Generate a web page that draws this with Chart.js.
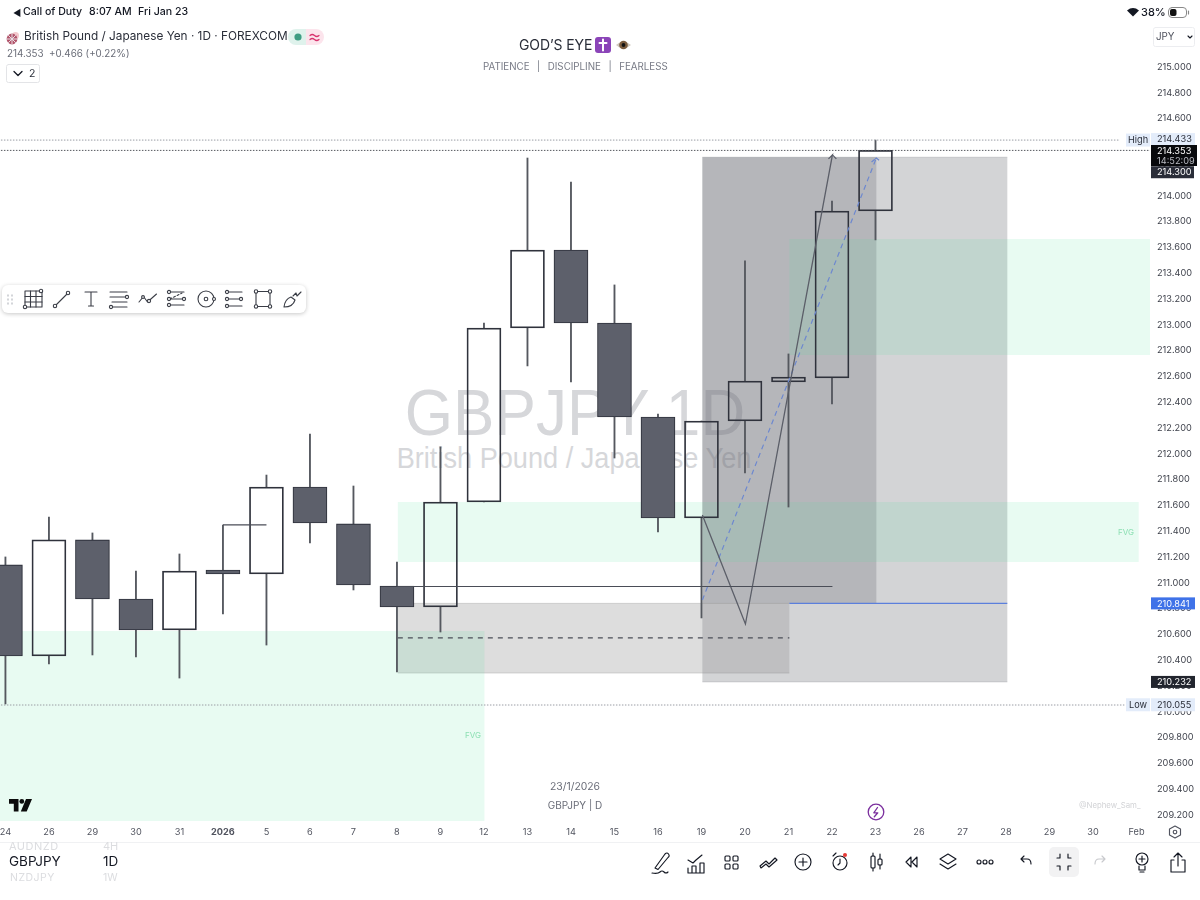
<!DOCTYPE html>
<html lang="en">
<head>
<meta charset="UTF-8" />
<title>GBPJPY 1D</title>
<script src="https://cdn.jsdelivr.net/npm/chart.js"></script>
<style>
  html, body { margin: 0; background: #fff; }
  body { width: 1200px; height: 900px; position: relative; overflow: hidden; font-family: Inter, "Liberation Sans", sans-serif; color: #131722; }
  #chart { position: absolute; left: 0; top: 0; z-index: 1; }
  .t { position: absolute; white-space: nowrap; z-index: 2; line-height: 1; }
  .c { transform: translateX(-50%); }
  .wm { position: absolute; z-index: 0; white-space: nowrap; font-family: "Liberation Sans", sans-serif; line-height: 1; color: #d6d7da; }
  svg.i { position: absolute; z-index: 2; fill: none; stroke: #131722; stroke-width: 1.15; stroke-linecap: round; stroke-linejoin: round; overflow: visible; }
  #tools { position: absolute; left: 2px; top: 285px; width: 304px; height: 28px; background: #fff; border-radius: 6px; box-shadow: 0 1px 4px rgba(0,0,0,.22); z-index: 2; }
</style>
</head>
<body>
<canvas id="chart" width="1200" height="900"></canvas>

<div class="wm" style="left:575px;top:381px;font-size:64px;transform:translateX(-50%) scaleX(.97)">GBPJPY 1D</div>
<div class="wm" style="left:574px;top:444px;font-size:29px;transform:translateX(-50%) scaleX(.936)">British Pound / Japanese Yen</div>

<!-- status bar -->
<div class="t" style="left:13px;top:8px;font-size:9px">◀</div>
<div class="t" style="left:23px;top:7px;font-size:10.6px;font-weight:500">Call of Duty</div>
<div class="t" style="left:89px;top:7px;font-size:10.6px;font-weight:500">8:07 AM</div>
<div class="t" style="left:138px;top:7px;font-size:10.6px;font-weight:500">Fri Jan 23</div>
<div class="t" style="left:1141px;top:7px;font-size:11px;font-weight:500">38%</div>
<svg class="i" style="left:1127px;top:7px;stroke:none;fill:#131722" width="12" height="10" viewBox="0 0 12 10"><path d="M6 9.5 0 3.4Q6-1.2 12 3.4z"/></svg>
<svg class="i" style="left:1168px;top:7px" width="22" height="11" viewBox="0 0 22 11"><rect x=".5" y=".5" width="18" height="10" rx="3.5" stroke="#888" stroke-width="1"/><rect x="2" y="2" width="6.5" height="7" rx="2" fill="#111" stroke="none"/><path d="M20.5 4v3" stroke="#888"/></svg>

<!-- symbol legend -->
<svg class="i" style="left:6px;top:31px;stroke:none" width="14" height="14" viewBox="0 0 14 14"><circle cx="9.5" cy="4.500" r="3.500" fill="#f3c9cd"/><circle cx="6" cy="8" r="5.400" fill="#b2546b"/><path d="M1 8h10M6 3v10M2.500 4.500l7 7M9.500 4.500l-7 7" stroke="#e8dfe4" stroke-width="1"/></svg>
<div class="t" style="left:24px;top:31px;font-size:11.8px;color:#2a2e39">British Pound / Japanese Yen · 1D · FOREXCOM</div>
<svg class="i" style="left:288px;top:29px;stroke:none" width="36" height="16" viewBox="0 0 36 16"><path d="M18 0H8a8 8 0 0 0 0 16h10z" fill="#dff2ec"/><path d="M18 0h10a8 8 0 0 1 0 16H18z" fill="#fce4ec"/><circle cx="10" cy="8" r="3.600" fill="#3f9d83"/><path d="M22 6.500q2.300-2 4.500 0t4.500 0M22 10.500q2.300-2 4.500 0t4.500 0" fill="none" stroke="#d8346f" stroke-width="1.200"/></svg>
<div class="t" style="left:7px;top:49px;font-size:9.8px;color:#6a6d78">214.353 &nbsp;+0.466 (+0.22%)</div>
<svg class="i" style="left:6px;top:64px" width="34" height="19" viewBox="0 0 34 19"><rect x=".5" y=".5" width="33" height="18" rx="2" stroke="#e3e4e7" stroke-width="1"/><path d="M8 7.500l4 4 4-4" stroke-width="1.300"/></svg>
<div class="t" style="left:29px;top:69px;font-size:10.500px;color:#2a2e39">2</div>

<!-- title -->
<div class="t" style="left:519px;top:38px;font-size:14px;letter-spacing:-.1px;color:#2a2e39">GOD’S EYE</div>
<svg class="i" style="left:595px;top:37px;stroke:none" width="37" height="16" viewBox="0 0 37 16"><rect width="16" height="16" rx="3" fill="#8b44b8"/><path d="M8 2.500v11M4.500 6h7" stroke="#fff" stroke-width="2"/><path d="M21 8Q28 1 36 8 28 15 21 8z" fill="#cfc8be"/><circle cx="28.500" cy="8" r="4.300" fill="#7a5c3e"/><circle cx="28.500" cy="8" r="1.900" fill="#111"/></svg>
<div class="t" style="left:483px;top:62px;font-size:9.75px;color:#787b86;word-spacing:1px">PATIENCE &nbsp;|&nbsp; DISCIPLINE &nbsp;|&nbsp; FEARLESS</div>

<!-- currency box -->
<svg class="i" style="left:1153px;top:27px" width="42" height="20" viewBox="0 0 42 20"><rect x=".5" y=".5" width="41" height="19" rx="2" stroke="#eceDf0" stroke-width="1"/><path d="M35 9l2 2 2-2" stroke-width="1.100"/></svg>
<div class="t" style="left:1156px;top:32px;font-size:9.8px;color:#50535e">JPY</div>

<!-- drawing toolbar -->
<div id="tools"></div>
<svg class="i" style="left:0;top:285px;stroke:#3a3d46;stroke-width:1.100" width="310" height="28" viewBox="0 0 310 28">
  <g stroke="#c9cbd0" stroke-width="1.600" stroke-dasharray="1 3"><path d="M8 10v10M12 10v10"/></g>
  <rect x="25" y="6" width="17" height="16"/><path d="M25 11.500h17M25 17h17M30.500 6v16M36 6v16"/><circle cx="25" cy="22" r="1.700" fill="#fff"/><circle cx="41" cy="6" r="1.700" fill="#fff"/>
  <path d="M55 21 68 8"/><circle cx="55" cy="21" r="1.700" fill="#fff"/><circle cx="68" cy="8" r="1.700" fill="#fff"/>
  <path d="M85 7h12M91 7v14M88.500 21h5"/>
  <path d="M110 7h17M110 12h17M112 17h15M110 22h17"/><circle cx="127" cy="12" r="1.600" fill="#fff"/><circle cx="111" cy="22" r="1.600" fill="#fff"/>
  <path d="M139 17l4.500-5.500 4 5.500 9-8"/><circle cx="149" cy="16" r="1.600" fill="#fff"/><circle cx="143" cy="12" r="1.400" fill="#fff"/>
  <path d="M168 7h16M168 14h16M168 20h16"/><path d="M170 14l12-6" stroke-dasharray="2 2"/><circle cx="169" cy="7" r="1.600" fill="#fff"/><circle cx="169" cy="14" r="1.600" fill="#fff"/><circle cx="169" cy="20" r="1.600" fill="#fff"/><circle cx="184" cy="14" r="1.600" fill="#fff"/>
  <circle cx="206" cy="14" r="8"/><circle cx="206" cy="14" r="1.800"/><circle cx="214" cy="14" r="1.500" fill="#fff"/>
  <path d="M226 7h16M226 14h16M226 21h16"/><circle cx="227" cy="7" r="1.600" fill="#fff"/><circle cx="227" cy="14" r="1.600" fill="#fff"/><circle cx="227" cy="21" r="1.600" fill="#fff"/><circle cx="241" cy="14" r="1.600" fill="#fff"/>
  <rect x="256" y="6.500" width="14" height="15"/><circle cx="256" cy="6.500" r="1.700" fill="#fff"/><circle cx="270" cy="6.500" r="1.700" fill="#fff"/><circle cx="256" cy="21.500" r="1.700" fill="#fff"/><circle cx="270" cy="21.500" r="1.700" fill="#fff"/>
  <path d="M284 22q1-8 7-10l4 3q-2 7-11 7zM293 11l3-3 1 3 4-4"/>
</svg>

<!-- zone labels and stamps -->
<div class="t" style="left:465px;top:731px;font-size:8px;color:#8ee0b4">FVG</div>
<div class="t" style="left:1118px;top:528px;font-size:8px;color:#8ee0b4">FVG</div>
<div class="t c" style="left:575px;top:782px;font-size:10.4px;color:#6a6d78">23/1/2026</div>
<div class="t c" style="left:575px;top:800px;font-size:10px;color:#6a6d78">GBPJPY | D</div>
<div class="t" style="left:1079px;top:802px;font-size:7.800px;color:#d2d3d6">@Nephew_Sam_</div>
<svg class="i" style="left:9px;top:799px;stroke:none;fill:#0b0b0b" width="23" height="13" viewBox="0 0 23 13"><path d="M0 0h9.500v12.500H4.800V4.700H0zM17 0h6l-5.300 12.500h-5.900z"/><circle cx="12.800" cy="2.400" r="2.400"/></svg>
<svg class="i" style="left:867px;top:803px;stroke:#7b2f9e" width="18" height="18" viewBox="0 0 18 18"><circle cx="9" cy="9" r="7.800" stroke-width="1.300"/><path d="M10.500 4.500 6.800 9.800h4l-3.500 4" stroke-width="1.300"/></svg>
<svg class="i" style="left:1168px;top:825px;stroke:#50535e" width="14" height="14" viewBox="0 0 14 14"><path d="M7 1l5.500 3v6L7 13 1.500 10V4z"/><circle cx="7" cy="7" r="1.800"/></svg>

<!-- bottom bar -->
<div style="position:absolute;left:0;top:842px;width:1200px;height:1px;background:#f0f1f3;z-index:2"></div>
<div class="t" style="left:9px;top:841px;height:9px;overflow:hidden;font-size:11px;letter-spacing:.5px;color:#dcdde0">AUDNZD</div>
<div class="t" style="left:103px;top:841px;height:9px;overflow:hidden;font-size:11px;color:#dcdde0">4H</div>
<div class="t" style="left:9px;top:855px;font-size:13.500px;color:#131722">GBPJPY</div>
<div class="t" style="left:103px;top:855px;font-size:13.500px;color:#131722">1D</div>
<div class="t" style="left:10px;top:873px;font-size:10.500px;letter-spacing:.5px;color:#dcdde0">NZDJPY</div>
<div class="t" style="left:103px;top:873px;font-size:10.500px;color:#dcdde0">1W</div>
<div style="position:absolute;left:1049px;top:847px;width:30px;height:30px;border-radius:5px;background:#f2f2f3;z-index:1"></div>
<svg class="i" style="left:640px;top:845px" width="560" height="34" viewBox="640 845 560 34">
  <path d="M655 868l10-14q2-2 3.500 0t-.5 3.500l-10 12zM652 873q6 1 8-1t4 0 4 0"/>
  <path d="M688 868v5h4v-7h4v7h4v-10h4v10h-12M688 860l5 3 3-3 6-5"/>
  <rect x="725" y="856" width="5" height="5" rx="1"/><rect x="733" y="856" width="5" height="5" rx="1"/><rect x="725" y="864" width="5" height="5" rx="1"/><rect x="733" y="864" width="5" height="5" rx="1"/>
  <path d="M760 866l6-5 3 3 6-6 2 2-8 7-3-3-5 4z"/>
  <circle cx="803" cy="862" r="8"/><path d="M803 858v8M799 862h8"/>
  <circle cx="840" cy="863" r="7"/><path d="M840 859v4l-2 2M833 856l3-3"/><circle cx="845" cy="855" r="2" fill="#e53935" stroke="none"/>
  <rect x="871" y="856" width="4" height="12" rx="1"/><path d="M873 853v3M873 868v3M880 854v5M880 865v4"/><rect x="878" y="859" width="4" height="6" rx="1"/>
  <path d="M911 857l-5 5 5 5zM917 857l-5 5 5 5z"/>
  <path d="M948 854l8 5-8 5-8-5zM940 864l8 5 8-5"/>
  <circle cx="979" cy="862" r="2"/><circle cx="985" cy="862" r="2"/><circle cx="991" cy="862" r="2"/>
  <path d="M1021 859l3-3M1021 859l3 3M1021 859h6q4 0 4 5"/>
  <path d="M1060 854v4h-3M1068 854v4h3M1060 870v-4h-3M1068 870v-4h3"/>
  <path d="M1105 859l-3-3M1105 859l-3 3M1105 859h-6q-4 0-4 5" stroke="#c8c9cd"/>
  <circle cx="1142" cy="859" r="6"/><path d="M1142 856v6M1139 859h6M1139 866v4h6v-4M1140 872h4"/>
  <path d="M1178 866v-13M1174 857l4-4 4 4M1174 860h-3v12h14v-12h-3"/>
</svg>

<script>
  // daily candles, first one is the 24th at the left edge
  const dayLabels = ["24","26","29","30","31","2026","5","6","7","8","9","12","13","14","15","16","19","20","21","22","23","26","27","28","29","30","Feb"];
  const opens  = [211.139,210.433,211.333,210.875,210.635,211.100,211.069,211.743,211.457,210.976,210.813,211.627,212.976,213.581,213.015,212.286,211.503,212.255,212.558,212.589,213.883];
  const closes = [210.433,211.333,210.875,210.635,211.092,211.069,211.743,211.464,210.984,210.813,211.627,212.976,213.581,213.015,212.286,211.503,212.255,212.565,212.596,213.883,214.353];
  const highs  = [211.201,211.511,211.387,211.092,211.224,211.449,211.836,212.154,211.751,211.162,212.054,213.015,214.294,214.108,213.310,212.309,212.255,213.496,212.775,213.961,214.433];
  const lows   = [210.061,210.371,210.441,210.425,210.262,210.759,210.518,211.309,210.945,210.309,210.619,211.627,212.682,212.558,211.968,211.395,210.728,211.852,211.588,212.387,213.659];

  const priceTicks = [215,214.8,214.6,214.4,214.2,214,213.8,213.6,213.4,213.2,213,212.8,212.6,212.4,212.2,212,211.8,211.6,211.4,211.2,211,210.8,210.6,210.4,210.2,210,209.8,209.6,209.4,209.2];

  // zones: [left index, right index, top price, bottom price]
  const fvgLow = [-1, 11.01, 210.627, 209.154];
  const fvgMid = [9.02, 26.05, 211.627, 211.162];
  const fvgHigh = [18.02, 27, 213.666, 212.767];
  const orderBlock = [9.02, 18.02, 210.841, 210.301];
  const projection = [16.02, 23.03, 214.300, 210.232];
  const projectionInner = [16.02, 20.02, 214.300, 210.841];

  // drawn lines
  const swingX = [16.02, 17.01, 19.01, 18.92, 19.01, 19.10];
  const swingY = [211.526, 210.681, 214.318, 214.287, 214.318, 214.287];
  const pathX = [16.02, 20.02, 19.91, 20.02, 20.13];
  const pathY = [210.867, 214.294, 214.263, 214.294, 214.263];
  const openLevelX = [9.01, 19.01];
  const openLevelY = [210.972, 210.972];
  const stepX = [5, 6];
  const stepY = [211.449, 211.449];
  const blueLevelX = [18.02, 23.03];
  const blueLevelY = [210.841, 210.841];
  const midLevelX = [9.02, 18.02];
  const midLevelY = [210.573, 210.573];
  const highX = [-1, 25.62];
  const highY = [214.433, 214.433];
  const lastX = [-1, 27];
  const lastY = [214.353, 214.353];
  const lowX = [-1, 25.72];
  const lowY = [210.053, 210.053];

  const zip = (xs, ys) => xs.map((x, i) => ({ x, y: ys[i] }));

  function lineSet(xs, ys, color, width, dash) {
    return {
      type: "line", data: zip(xs, ys), borderColor: color, borderWidth: width,
      borderDash: dash || [], pointRadius: 0, tension: 0, fill: false, order: 0
    };
  }

  function wickSet(tops, bottoms) {
    return {
      data: tops.map((t, i) => ({ x: i, y: [bottoms[i], t] })),
      barThickness: 1.2, backgroundColor: "#55585f", borderWidth: 0, grouped: false, order: 2
    };
  }

  const bodyTop = opens.map((o, i) => Math.max(o, closes[i]));
  const bodyBottom = opens.map((o, i) => Math.min(o, closes[i]));

  // zones sit under the candles and show through the hollow bodies
  const zonePlugin = {
    id: "zones",
    beforeDatasetsDraw(chart) {
      const { ctx, chartArea: a, scales: { x, y } } = chart;
      const box = (z, fill, edge) => {
        const l = x.getPixelForValue(z[0]), r = x.getPixelForValue(z[1]);
        const t = y.getPixelForValue(z[2]), b = y.getPixelForValue(z[3]);
        ctx.fillStyle = fill;
        ctx.fillRect(l, t, r - l, b - t);
        if (edge) {
          ctx.fillStyle = edge;
          ctx.fillRect(l, t - 0.5, r - l, 1);
          ctx.fillRect(l, b - 0.5, r - l, 1);
        }
      };
      ctx.save();
      ctx.beginPath();
      ctx.rect(a.left, a.top, a.right - a.left, a.bottom - a.top);
      ctx.clip();
      box(projection, "rgba(110,112,118,.3)", "rgba(110,112,118,.25)");
      box(projectionInner, "rgba(110,112,118,.3)");
      box(orderBlock, "rgba(142,142,142,.3)", "rgba(120,120,120,.25)");
      box(fvgLow, "rgba(70,225,150,.125)");
      box(fvgMid, "rgba(70,225,150,.125)");
      box(fvgHigh, "rgba(70,225,150,.125)");
      ctx.restore();
    }
  };

  // price tags on the right axis
  const tagPlugin = {
    id: "tags",
    afterDraw(chart) {
      const { ctx, scales: { y } } = chart;
      const tag = (price, text, bg, fg, h, w, shift) => {
        const cy = y.getPixelForValue(price) + (shift || 0);
        ctx.fillStyle = bg;
        ctx.fillRect(1151, cy - h / 2, w, h);
        ctx.fillStyle = fg;
        ctx.font = "9.2px Inter";
        ctx.textBaseline = "middle";
        ctx.textAlign = "left";
        ctx.fillText(text, 1157, cy + 0.5);
      };
      const side = (price, text) => {
        const cy = y.getPixelForValue(price);
        ctx.fillStyle = "#e3ecfa";
        ctx.fillRect(1126, cy - 6.5, 24, 13);
        ctx.fillStyle = "#2a2e39";
        ctx.font = "9.2px Inter";
        ctx.textAlign = "center";
        ctx.textBaseline = "middle";
        ctx.fillText(text, 1138, cy + 0.5);
      };
      tag(214.433, "214.433", "#e3ecfa", "#2a2e39", 12, 44, -1);
      side(214.433, "High");
      tag(210.841, "210.841", "#3f72e8", "#fff", 12, 44);
      tag(210.232, "210.232", "#22252e", "#fff", 12, 44);
      tag(210.055, "210.055", "#e3ecfa", "#2a2e39", 13, 44);
      side(210.055, "Low");
      // last price block, pushed below the high tag
      ctx.fillStyle = "#08090c";
      ctx.fillRect(1151, 145, 46, 21);
      ctx.fillStyle = "#fff";
      ctx.font = "9.2px Inter";
      ctx.textAlign = "left";
      ctx.textBaseline = "middle";
      ctx.fillText("214.353", 1157, 151);
      ctx.fillStyle = "#b9bbc2";
      ctx.fillText("14:52:09", 1157, 161);
      tag(214.300, "214.300", "#2a2d38", "#fff", 12, 43, 15);
    }
  };

  new Chart(document.getElementById("chart"), {
    type: "bar",
    data: {
      datasets: [
        wickSet(highs, bodyTop),
        wickSet(bodyBottom, lows),
        {
          data: opens.map((o, i) => ({ x: i, y: [bodyBottom[i], bodyTop[i]] })),
          barThickness: 34,
          backgroundColor: opens.map((o, i) => closes[i] >= o ? "transparent" : "#5d606b"),
          borderColor: "#2f323c",
          borderWidth: 1.1,
          borderSkipped: false,
          grouped: false,
          order: 1
        },
        lineSet(openLevelX, openLevelY, "#4a4d57", 1.2),
        lineSet(stepX, stepY, "#4a4d57", 1.2),
        lineSet(midLevelX, midLevelY, "#4a4d57", 1.2, [5, 5]),
        lineSet(blueLevelX, blueLevelY, "#5b7fdc", 1.2),
        lineSet(swingX, swingY, "#5b5e68", 1.3),
        lineSet(pathX, pathY, "#6d88cf", 1.2, [5, 4]),
        lineSet(highX, highY, "#9a9da5", 1, [1.5, 1.5]),
        lineSet(lastX, lastY, "#55585f", 1, [1.5, 1.5]),
        lineSet(lowX, lowY, "#9a9da5", 1, [1.5, 1.5])
      ]
    },
    options: {
      responsive: false,
      animation: false,
      layout: { autoPadding: false, padding: { left: 0, right: 0, top: 28, bottom: 56 } },
      plugins: { legend: { display: false }, tooltip: { enabled: false } },
      scales: {
        x: {
          type: "linear", offset: false, min: -0.125, max: 26.31,
          grid: { display: false, drawTicks: false }, border: { display: false },
          afterBuildTicks: s => { s.ticks = dayLabels.map((_, i) => ({ value: i })); },
          afterFit: s => { s.height = 22; s.paddingLeft = 0; s.paddingRight = 0; },
          ticks: {
            autoSkip: false, maxRotation: 0, padding: 5, color: "#50535e",
            font: c => ({ family: "Inter", size: 9.2, weight: c.tick && c.tick.value === 5 ? "bold" : "normal" }),
            callback: v => dayLabels[v]
          }
        },
        y: {
          position: "right", min: 209.146, max: 215.302,
          grid: { display: false, drawTicks: false }, border: { display: false },
          afterBuildTicks: s => { s.ticks = priceTicks.map(value => ({ value })); },
          afterFit: s => { s.width = 50; s.paddingTop = 0; s.paddingBottom = 0; },
          ticks: {
            autoSkip: false, padding: 7, color: "#3f424c", font: { family: "Inter", size: 9.2 },
            callback: v => Number(v).toFixed(3)
          }
        }
      }
    },
    plugins: [zonePlugin, tagPlugin]
  });
</script>
</body>
</html>
